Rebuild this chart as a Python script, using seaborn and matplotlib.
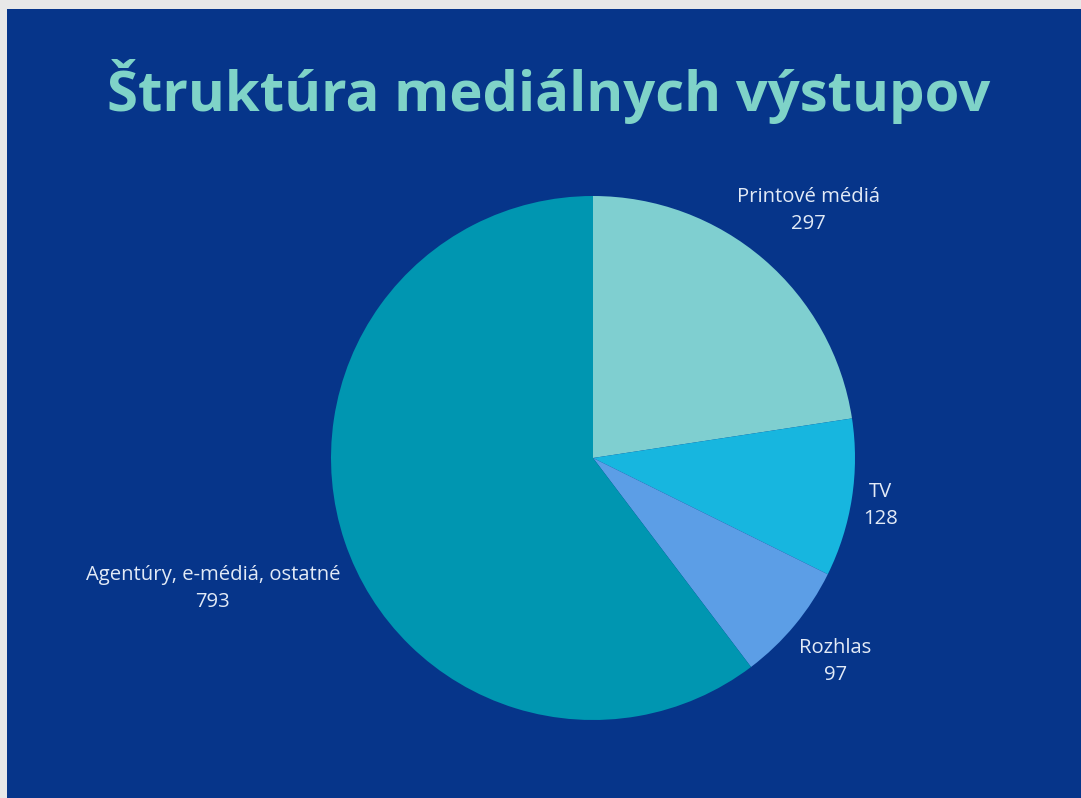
import numpy as np
import matplotlib
matplotlib.use("Agg")
import matplotlib.pyplot as plt
import seaborn as sns

# data
categories = ["Printové médiá", "TV", "Rozhlas", "Agentúry, e-médiá, ostatné"]
values = [297, 128, 97, 793]
colors = ["#7fcfd0", "#17b6df", "#5c9ee6", "#0096b1"]
label_dist = [1.26, 1.11, 1.20, 1.53]

sns.set_style("white")
plt.rcParams['font.family'] = ['Open Sans', 'DejaVu Sans']

bg = "#06358a"
fig = plt.figure(figsize=(10.81, 7.98), dpi=100)
fig.patch.set_facecolor("#e8e8e8")

# blue panel (gray border on top/left)
back = fig.add_axes([7/1081, 0, 1 - 7/1081, 1 - 9/798])
back.set_facecolor(bg)
back.set_xticks([])
back.set_yticks([])
for s in back.spines.values():
    s.set_visible(False)

fig.text(549/1081, 1 - 91/798, "Štruktúra mediálnych výstupov",
         ha="center", va="center", fontsize=40.5, fontweight="bold", color="#7fd3c8")

# pie axes
cx, cy, r = 593, 798 - 458, 262
ax = fig.add_axes([(cx - r)/1081, (cy - r)/798, 2*r/1081, 2*r/798])
ax.patch.set_alpha(0)
wedges, _ = ax.pie(values, colors=sns.color_palette(colors), startangle=90,
                   counterclock=False, radius=1, labeldistance=None,
                   wedgeprops=dict(linewidth=0))
ax.set_xlim(-1, 1)
ax.set_ylim(-1, 1)

for w, name, v, d in zip(wedges, categories, values, label_dist):
    ang = np.deg2rad((w.theta1 + w.theta2) / 2)
    ax.text(d * np.cos(ang), d * np.sin(ang) - 0.01, f"{name}\n{v}", ha="center", va="center",
            fontsize=14.6, color="#e2eaf6", linespacing=1.45)

fig.savefig("out.png", dpi=100, facecolor=fig.get_facecolor())
